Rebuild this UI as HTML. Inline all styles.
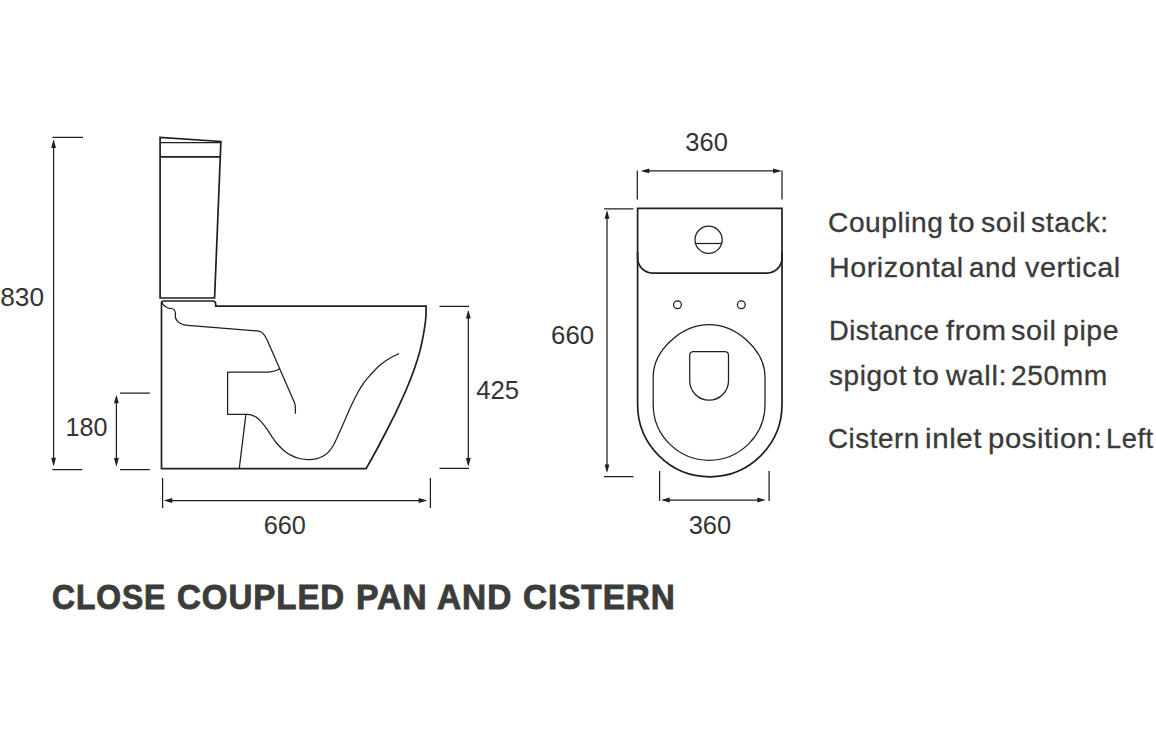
<!DOCTYPE html>
<html lang="en">
<head>
<meta charset="utf-8">
<title>Close Coupled Pan and Cistern</title>
<style>
  html,body{margin:0;padding:0;background:#fff;}
  body{width:1156px;height:742px;position:relative;overflow:hidden;font-family:"Liberation Sans",sans-serif;color:#3c3c3b;}
  #drawing{position:absolute;left:0;top:0;width:1156px;height:742px;display:block;}
  .o{fill:none;stroke:#1f1f1e;stroke-width:1.7;stroke-linejoin:miter;stroke-linecap:butt;}
  .t{fill:none;stroke:#1f1f1e;stroke-width:1.25;stroke-linejoin:round;stroke-linecap:butt;}
  .d{fill:none;stroke:#1f1f1e;stroke-width:1.25;}
  .a{fill:#1f1f1e;stroke:none;}
  .n{font-family:"Liberation Sans",sans-serif;font-size:25.6px;fill:#333;}
  .notes p, h1{margin:0;font-weight:normal;}
  .notes span, h1 span{position:absolute;white-space:nowrap;transform-origin:0 0;line-height:1;display:block;}
  .notes span{font-size:28.0px;letter-spacing:0.55px;color:#3a3a39;-webkit-text-stroke:0.3px #3a3a39;}
  h1 span{font-size:34.8px;letter-spacing:1.0px;font-weight:bold;color:#3c3c3b;-webkit-text-stroke:0.9px #3c3c3b;}
</style>
</head>
<body>
<svg id="drawing" width="1156" height="742" viewBox="0 0 1156 742">
  <g id="side-view">
    <path class="o" d="M160.1,298 V137.5 L220.9,141.5 L214.6,298 Z"/>
    <path class="t" d="M160.1,142.5 H220.8"/>
    <path class="o" d="M160.1,156.9 H220.2"/>
    <path class="o" d="M161.5,468.6 V303 C161.5,301.6 162.2,301 163.6,301 H212.4 C214.7,301 215.7,302.1 215.7,304.3 V306.2 H426.05 C426.05,307.33 426.14,310.53 426.05,313 C425.96,315.47 425.81,318.17 425.5,321 C425.19,323.83 424.72,326.83 424.2,330 C423.68,333.17 423.17,336.32 422.4,340 C421.63,343.68 420.68,348.05 419.6,352.1 C418.52,356.15 417.23,360.25 415.9,364.3 C414.57,368.35 413.13,372.37 411.6,376.4 C410.07,380.43 408.42,384.45 406.7,388.5 C404.98,392.55 403.13,396.65 401.3,400.7 C399.47,404.75 397.5,409.08 395.7,412.8 C393.9,416.52 391.95,420.13 390.5,423 C389.05,425.87 389.33,425.5 387,430 C384.67,434.5 379.98,443.57 376.5,450 C373.02,456.43 367.83,465.5 366.1,468.6 Z"/>
    <path class="t" d="M161.8,302.3 C162.03,302.68 162.67,303.93 163.2,304.6 C163.73,305.27 164.18,305.73 165,306.3 C165.82,306.87 166.98,307.63 168.1,308 C169.22,308.37 170.68,308.18 171.7,308.5 C172.72,308.82 173.58,309.18 174.2,309.9 C174.82,310.62 175.2,311.63 175.4,312.8 C175.6,313.97 175.27,315.8 175.4,316.9 C175.53,318 175.77,318.62 176.2,319.4 C176.63,320.18 177.32,320.95 178,321.6 C178.68,322.25 179.43,322.8 180.3,323.3 C181.17,323.8 182.17,324.28 183.2,324.6 C184.23,324.92 185.22,325.03 186.5,325.2 C187.78,325.37 190.17,325.53 190.9,325.6 L259.1,331.1 C262.5,331.6 265.3,335.6 267.5,340.8 L294.3,402.3 C295.1,404.3 295.4,405.6 295.4,407.6 V413.8"/>
    <path class="t" d="M279.6,368.7 C275.5,371.3 271.5,372.1 266.5,372.1 H227.6 V414.3 H246"/>
    <path class="t" d="M246,414.3 C246.83,414.38 249.32,414.33 251,414.8 C252.68,415.27 254.38,415.93 256.1,417.1 C257.82,418.27 259.57,419.93 261.3,421.8 C263.03,423.67 264.77,425.88 266.5,428.3 C268.23,430.72 269.97,433.77 271.7,436.3 C273.43,438.83 274.88,441.15 276.9,443.5 C278.92,445.85 281.5,448.47 283.8,450.4 C286.1,452.33 288.1,453.75 290.7,455.1 C293.3,456.45 296.48,457.75 299.4,458.5 C302.32,459.25 305.43,459.53 308.2,459.6 C310.97,459.67 313.55,459.45 316,458.9 C318.45,458.35 320.88,457.38 322.9,456.3 C324.92,455.22 326.37,454.2 328.1,452.4 C329.83,450.6 331.87,447.82 333.3,445.5 C334.73,443.18 335.55,440.95 336.7,438.5 C337.85,436.05 338.77,434.02 340.2,430.8 C341.63,427.58 343.55,423.2 345.3,419.2 C347.05,415.2 348.55,411.37 350.7,406.8 C352.85,402.23 355.98,395.83 358.2,391.8 C360.42,387.77 361.93,385.47 364,382.6 C366.07,379.73 367.92,377.55 370.6,374.6 C373.28,371.65 376.9,367.63 380.1,364.9 C383.3,362.17 386.67,360.08 389.8,358.2 C392.93,356.32 397.38,354.37 398.9,353.6"/>
    <path class="t" d="M245.9,414.3 L239.3,468.2"/>
  </g>
  <g id="top-view">
    <path class="o" d="M637.6,404.6 V208.3 H782 V404.6 A72.2,72.2 0 0 1 637.6,404.6 Z"/>
    <path class="o" d="M637.6,252 V258.1 A15,15 0 0 0 652.6,273.1 H767 A15,15 0 0 0 782,258.1 V252"/>
    <circle class="t" cx="708.6" cy="239.8" r="13.6"/>
    <path class="t" d="M695.5,243.5 H721.7"/>
    <circle class="t" cx="677.5" cy="304.7" r="3.9"/>
    <circle class="t" cx="741.3" cy="304.7" r="3.9"/>
    <path class="t" d="M709.1,324.7 C736.3,324.7 765,350 765,377 V404.4 A55.9,55.9 0 0 1 653.2,404.4 V377 C653.2,350 681.9,324.7 709.1,324.7 Z"/>
    <path class="t" d="M693.3,351.5 H724.9 A3.6,3.6 0 0 1 728.5,355.1 V380.8 A19.4,19.4 0 0 1 689.7,380.8 V355.1 A3.6,3.6 0 0 1 693.3,351.5 Z"/>
  </g>
  <g id="dimensions">
    <path class="d" d="M52.3,137.3 H83 M52.3,469.5 H82.2 M53.6,147 V458.8 M120,393.2 H149.8 M120,469.5 H149.8 M116.4,402.3 V459 M439.5,306.4 H469 M439.5,468.4 H469 M468.3,317.4 V459.1 M162.6,478 V508 M430.4,478 V508 M171.3,500.5 H419.7 M637.3,170.6 V199.6 M782,170.6 V199.6 M648.3,170.9 H774.1 M604,208.9 H633.5 M604,476.5 H633.5 M607,217.7 V465.4 M659.6,470.9 V501 M769.1,470.9 V501 M668.7,500 H758.3"/>
    <path class="a" d="M53.35,140.1 H53.85 L56,148 H51.2 Z M53.35,465.7 H53.85 L56,457.8 H51.2 Z M116.15,395.4 H116.65 L118.8,403.3 H114 Z M116.15,465.9 H116.65 L118.8,458 H114 Z M468.05,310.5 H468.55 L470.7,318.4 H465.9 Z M468.05,466 H468.55 L470.7,458.1 H465.9 Z M164.4,500.25 V500.75 L172.3,502.9 V498.1 Z M426.6,500.25 V500.75 L418.7,502.9 V498.1 Z M641.4,170.65 V171.15 L649.3,173.3 V168.5 Z M781,170.65 V171.15 L773.1,173.3 V168.5 Z M606.75,210.8 H607.25 L609.4,218.7 H604.6 Z M606.75,472.3 H607.25 L609.4,464.4 H604.6 Z M661.8,499.75 V500.25 L669.7,502.4 V497.6 Z M765.2,499.75 V500.25 L757.3,502.4 V497.6 Z"/>
    <text class="n" x="0.18" y="305.60" textLength="43.83" lengthAdjust="spacingAndGlyphs">830</text>
    <text class="n" x="65.61" y="435.70" textLength="41.95" lengthAdjust="spacingAndGlyphs">180</text>
    <text class="n" x="476.22" y="398.70" textLength="42.93" lengthAdjust="spacingAndGlyphs">425</text>
    <text class="n" x="263.63" y="534.20" textLength="42.24" lengthAdjust="spacingAndGlyphs">660</text>
    <text class="n" x="685.34" y="150.50" textLength="42.54" lengthAdjust="spacingAndGlyphs">360</text>
    <text class="n" x="551.11" y="343.60" textLength="42.98" lengthAdjust="spacingAndGlyphs">660</text>
    <text class="n" x="688.64" y="534.10" textLength="42.64" lengthAdjust="spacingAndGlyphs">360</text>
  </g>
</svg>
<div class="notes">
  <p><span style="left:828.44px;top:208.70px;transform:scaleX(1.0051)">Coupling</span> <span style="left:948.91px;top:208.70px;transform:scaleX(1.0698)">to</span> <span style="left:980.77px;top:208.70px;transform:scaleX(1.0196)">soil</span> <span style="left:1030.67px;top:208.70px;transform:scaleX(1.0177)">stack:</span></p>
  <p><span style="left:828.59px;top:253.70px;transform:scaleX(1.0234)">Horizontal</span> <span style="left:969.27px;top:253.70px;transform:scaleX(0.9945)">and</span> <span style="left:1024.61px;top:253.70px;transform:scaleX(1.0296)">vertical</span></p>
  <p><span style="left:828.69px;top:316.70px;transform:scaleX(0.9747)">Distance</span> <span style="left:945.82px;top:316.70px;transform:scaleX(1.0393)">from</span> <span style="left:1011.46px;top:316.70px;transform:scaleX(1.0293)">soil</span> <span style="left:1063.10px;top:316.70px;transform:scaleX(1.0162)">pipe</span></p>
  <p><span style="left:829.08px;top:362.20px;transform:scaleX(0.9992)">spigot</span> <span style="left:913.41px;top:362.20px;transform:scaleX(1.0875)">to</span> <span style="left:945.96px;top:362.20px;transform:scaleX(1.0397)">wall:</span> <span style="left:1010.84px;top:362.20px;transform:scaleX(1.0058)">250mm</span></p>
  <p><span style="left:828.36px;top:424.70px;transform:scaleX(0.9925)">Cistern</span> <span style="left:925.17px;top:424.70px;transform:scaleX(1.0545)">inlet</span> <span style="left:988.25px;top:424.70px;transform:scaleX(1.0472)">position:</span> <span style="left:1106.30px;top:424.70px;transform:scaleX(0.9735)">Left</span></p>
</div>
<h1><span style="left:51.84px;top:580.14px;transform:scaleX(0.9147)">CLOSE</span> <span style="left:176.71px;top:580.14px;transform:scaleX(0.9495)">COUPLED</span> <span style="left:355.96px;top:580.14px;transform:scaleX(0.9695)">PAN</span> <span style="left:436.80px;top:580.14px;transform:scaleX(0.9595)">AND</span> <span style="left:522.50px;top:580.14px;transform:scaleX(0.9568)">CISTERN</span></h1>
</body>
</html>
